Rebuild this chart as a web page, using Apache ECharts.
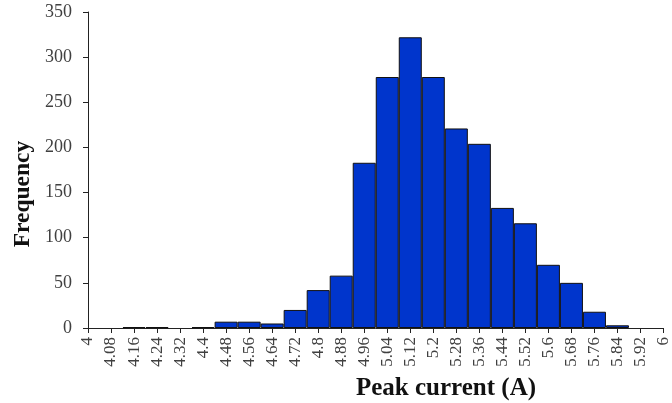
<!DOCTYPE html>
<html>
<head>
<meta charset="utf-8">
<script src="https://cdn.jsdelivr.net/npm/echarts@6/dist/echarts.min.js"></script>
<style>html,body{margin:0;padding:0;background:#fff}#c{width:672px;height:403px}</style>
</head>
<body>
<div id="c"></div>
<script>
var categories = ['4','4.08','4.16','4.24','4.32','4.4','4.48','4.56','4.64','4.72','4.8','4.88','4.96','5.04','5.12','5.2','5.28','5.36','5.44','5.52','5.6','5.68','5.76','5.84','5.92','6'];
var frequency = [0,0,1,1,0,1,7,7,5,20,42,58,183,278,322,278,221,204,133,116,70,50,18,3,0,0];
var yTicks = {min: 0, max: 350, interval: 50};
var xTitle = 'Peak current (A)';
var yTitle = 'Frequency';

var font = 'Liberation Serif, Times New Roman, serif';
var chart = echarts.init(document.getElementById('c'));
chart.setOption({
  animation: false,
  grid: {left: 88, right: 4, top: 12, bottom: 75, containLabel: false},
  xAxis: {
    type: 'category',
    data: categories,
    boundaryGap: false,
    axisLine: {lineStyle: {color: '#222', width: 1}},
    axisTick: {show: true, length: 5, inside: false, lineStyle: {color: '#222'}},
    axisLabel: {interval: 0, rotate: 90, margin: 9, fontFamily: font, fontSize: 17, color: '#404040'},
    splitLine: {show: false}
  },
  yAxis: {
    type: 'value',
    min: yTicks.min, max: yTicks.max, interval: yTicks.interval,
    axisLine: {show: true, lineStyle: {color: '#222', width: 1}},
    axisTick: {show: true, length: 5, lineStyle: {color: '#222'}},
    axisLabel: {margin: 16, fontFamily: font, fontSize: 18, color: '#404040'},
    splitLine: {show: false}
  },
  graphic: [
    {type: 'text', x: 356, y: 389, style: {text: xTitle, font: 'bold 25px ' + font, fill: '#111', verticalAlign: 'middle', align: 'left'}},
    {type: 'text', rotation: Math.PI / 2, x: 23, y: 194, style: {text: yTitle, font: 'bold 23.5px ' + font, fill: '#111', verticalAlign: 'middle', align: 'center'}}
  ],
  series: [{
    type: 'bar',
    data: frequency.map(function (v) { return v === 0 ? '-' : v; }),
    barWidth: '100%',
    barCategoryGap: '0%',
    itemStyle: {color: '#0035cc', borderColor: '#111', borderWidth: 1}
  }]
});
</script>
</body>
</html>
